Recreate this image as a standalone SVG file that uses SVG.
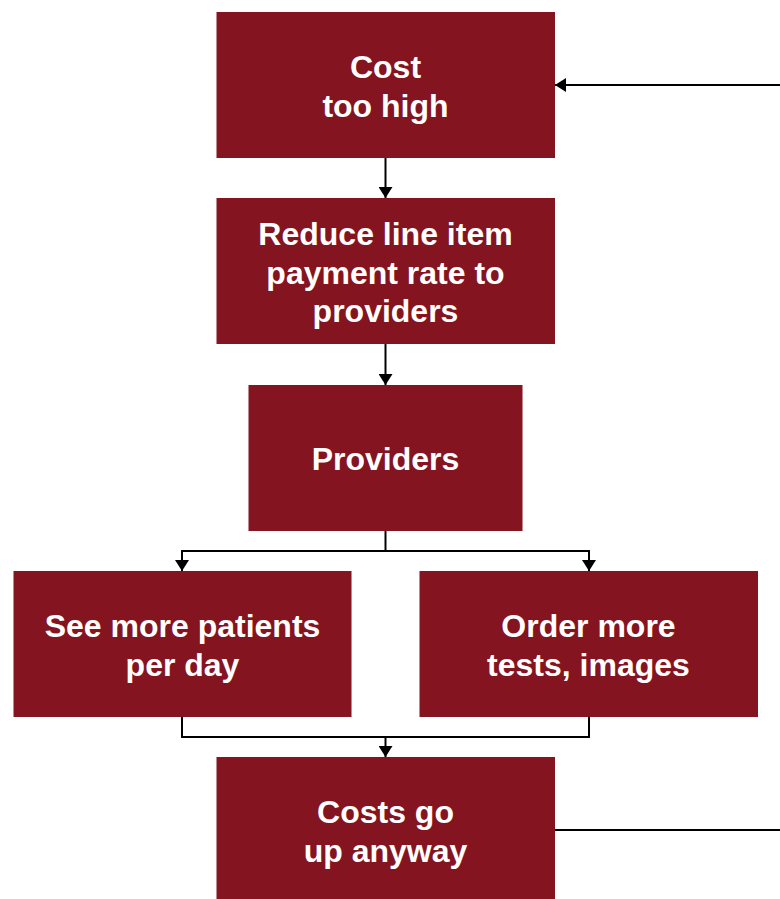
<svg xmlns="http://www.w3.org/2000/svg" width="780" height="899" viewBox="0 0 780 899">
  <style>
    .box { fill: #84141f; }
    .lbl { fill: #ffffff; font-family: "Liberation Sans", Arial, sans-serif; font-weight: bold; font-size: 32px; text-anchor: middle; }
    .wire { fill: none; stroke: #000000; stroke-width: 2; }
  </style>
  <defs>
    <marker id="arrow" viewBox="0 0 11 14" refX="11" refY="7" markerWidth="11" markerHeight="14" markerUnits="userSpaceOnUse" orient="auto">
      <path d="M0,0 L11,7 L0,14 Z" fill="#000000"/>
    </marker>
  </defs>

  <g id="connectors">
    <line class="wire" x1="385.5" y1="158" x2="385.5" y2="198" marker-end="url(#arrow)"/>
    <line class="wire" x1="385.5" y1="344" x2="385.5" y2="385" marker-end="url(#arrow)"/>
    <polyline class="wire" points="385.5,531 385.5,551"/>
    <polyline class="wire" points="182,571 182,551 589,551 589,571"/>
    <line class="wire" x1="182" y1="551" x2="182" y2="571" marker-end="url(#arrow)"/>
    <line class="wire" x1="589" y1="551" x2="589" y2="571" marker-end="url(#arrow)"/>
    <polyline class="wire" points="182,717 182,737 589,737 589,717"/>
    <line class="wire" x1="385.5" y1="737" x2="385.5" y2="757" marker-end="url(#arrow)"/>
    <line class="wire" x1="555" y1="830" x2="780" y2="830"/>
    <line class="wire" x1="780" y1="85" x2="555" y2="85" marker-end="url(#arrow)"/>
  </g>

  <g id="cost-too-high">
    <rect class="box" x="216.5" y="12" width="338.5" height="146"/>
    <text class="lbl" x="385.5" y="78">Cost</text>
    <text class="lbl" x="385.5" y="116.5">too high</text>
  </g>

  <g id="reduce-rate">
    <rect class="box" x="216.5" y="198" width="338.5" height="146"/>
    <text class="lbl" x="385.5" y="245">Reduce line item</text>
    <text class="lbl" x="385.5" y="283.5">payment rate to</text>
    <text class="lbl" x="385.5" y="322">providers</text>
  </g>

  <g id="providers">
    <rect class="box" x="248.5" y="385" width="274" height="146"/>
    <text class="lbl" x="385.5" y="470">Providers</text>
  </g>

  <g id="more-patients">
    <rect class="box" x="13.5" y="571" width="338" height="146"/>
    <text class="lbl" x="182.5" y="637">See more patients</text>
    <text class="lbl" x="182.5" y="675.5">per day</text>
  </g>

  <g id="more-tests">
    <rect class="box" x="419.5" y="571" width="338.5" height="146"/>
    <text class="lbl" x="588.5" y="637">Order more</text>
    <text class="lbl" x="588.5" y="675.5">tests, images</text>
  </g>

  <g id="costs-go-up">
    <rect class="box" x="216.5" y="757" width="338.5" height="142"/>
    <text class="lbl" x="385.5" y="823">Costs go</text>
    <text class="lbl" x="385.5" y="861.5">up anyway</text>
  </g>
</svg>
